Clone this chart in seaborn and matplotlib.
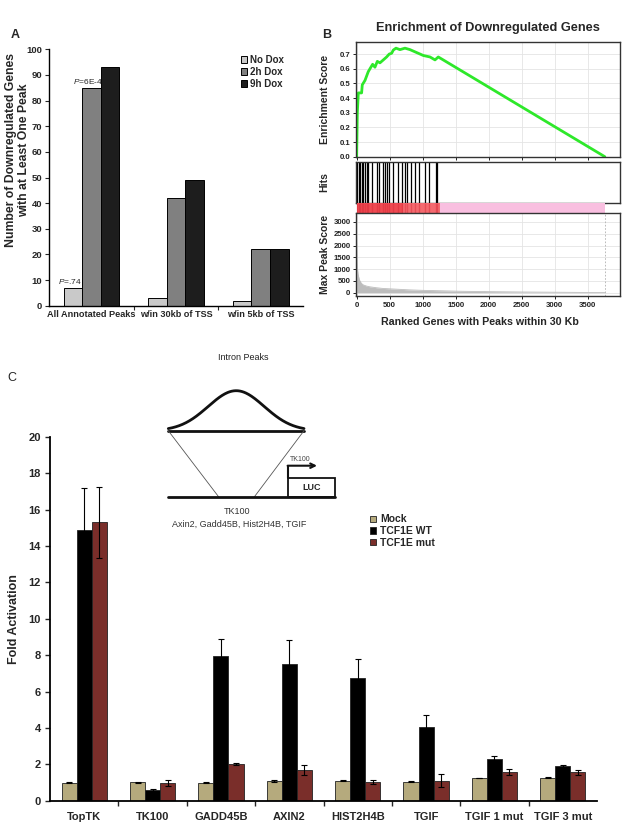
import numpy as np
import pandas as pd
import matplotlib
matplotlib.use("Agg")
import matplotlib.pyplot as plt
import seaborn as sns
from matplotlib.patches import Rectangle

sns.set_theme(style="white")
plt.rcParams['font.family'] = ['Liberation Sans', 'DejaVu Sans']
plt.rcParams['mathtext.fontset'] = 'custom'
plt.rcParams['mathtext.it'] = 'Liberation Sans:italic'
plt.rcParams['mathtext.rm'] = 'Liberation Sans'

# ---------------- Panel A data ----------------
a_categories = ["All Annotated Peaks", "w/in 30kb of TSS", "w/in 5kb of TSS"]
a_conditions = ["No Dox", "2h Dox", "9h Dox"]
a_no_dox = [7, 3, 2]
a_2h_dox = [85, 42, 22]
a_9h_dox = [93, 49, 22]
a_colors = ["#c9c9c9", "#808080", "#1d1d1d"]
a_pvals = ["$\\mathit{P}$=.74", "$\\mathit{P}$=6E-4"]

# ---------------- Panel B data ----------------
es_rank = [0, 10, 25, 75, 85, 126, 151, 176, 202, 242, 277, 313, 353, 404, 454,
           494, 530, 555, 596, 656, 732, 808, 909, 1010, 1111, 1187, 1237, 3760]
es_score = [0.0, 0.30, 0.435, 0.435, 0.49, 0.52, 0.55, 0.58, 0.60, 0.63, 0.61, 0.65,
            0.64, 0.66, 0.68, 0.70, 0.705, 0.727, 0.74, 0.73, 0.74, 0.73, 0.71,
            0.69, 0.68, 0.66, 0.68, 0.0]
hit_ranks = [10, 30, 50, 75, 100, 126, 150, 176, 227, 313, 343, 404, 429, 454, 494,
             555, 620, 686, 732, 757, 823, 884, 949, 1040, 1100, 1195, 1215]
peak_rank = [0, 5, 10, 20, 40, 70, 100, 150, 200, 300, 400, 600, 800, 1000, 1300,
             1600, 2000, 2500, 3000, 3500, 3760]
peak_score = [2300, 1500, 1100, 800, 550, 400, 330, 280, 250, 210, 180, 150, 120,
              100, 80, 60, 45, 30, 20, 10, 5]
n_genes = 3760
leading_edge = 1270

# ---------------- Panel C data ----------------
c_constructs = ["TopTK", "TK100", "GADD45B", "AXIN2", "HIST2H4B", "TGIF",
                "TGIF 1 mut", "TGIF 3 mut"]
c_conditions = ["Mock", "TCF1E WT", "TCF1E mut"]
c_mock = [1.0, 1.01, 1.0, 1.08, 1.1, 1.04, 1.25, 1.26]
c_mock_err = [0.03, 0.03, 0.03, 0.03, 0.03, 0.03, 0.02, 0.04]
c_wt = [14.88, 0.59, 7.95, 7.53, 6.76, 4.04, 2.27, 1.91]
c_wt_err = [2.3, 0.03, 0.95, 1.3, 1.04, 0.66, 0.2, 0.04]
c_mut = [15.29, 0.97, 2.02, 1.69, 1.03, 1.1, 1.58, 1.56]
c_mut_err = [1.95, 0.17, 0.07, 0.27, 0.13, 0.35, 0.15, 0.14]
c_colors = ["#b5aa7d", "#000000", "#7a2e2a"]

W, H = 634, 826
fig = plt.figure(figsize=(W / 100, H / 100), dpi=100)
fig.patch.set_facecolor("white")


def rect(x0, y0, x1, y1):
    return [x0 / W, 1 - y1 / H, (x1 - x0) / W, (y1 - y0) / H]


# ================= Panel A =================
dfA = pd.DataFrame({
    "category": a_categories * 3,
    "condition": np.repeat(a_conditions, len(a_categories)),
    "value": a_no_dox + a_2h_dox + a_9h_dox,
})
axA = fig.add_axes(rect(49.3, 49.3, 303, 305.7))
sns.barplot(data=dfA, x="category", y="value", hue="condition", order=a_categories,
            hue_order=a_conditions, palette=a_colors, width=0.66, gap=0,
            edgecolor="black", linewidth=0.7, saturation=1, ax=axA)
axA.set_xlim(-0.5, 2.5)
axA.set_ylim(0, 100)
axA.set_yticks(range(0, 101, 10))
axA.set_xticks(range(3))
axA.set_xticks([0.5, 1.5], minor=True)
axA.tick_params(axis="x", which="major", length=0, labelsize=6.6, pad=3)
axA.tick_params(axis="x", which="minor", length=3, width=0.8, direction="out", bottom=True)
axA.tick_params(axis="y", length=3, width=0.8, direction="out", left=True, labelsize=6.8, pad=2)
for lab in axA.get_xticklabels() + axA.get_yticklabels():
    lab.set_fontweight("bold")
for s in ["top", "right"]:
    axA.spines[s].set_visible(False)
for s in ["left", "bottom"]:
    axA.spines[s].set_color("black")
    axA.spines[s].set_linewidth(1.0)
axA.set_xlabel("")
axA.set_ylabel("Number of Downregulated Genes\nwith at Least One Peak", fontsize=8.8,
               fontweight="bold", linespacing=1.1)
axA.yaxis.set_label_coords(-0.075, 0.607)
# p-values
for cont_i, ptxt in zip([0, 1], a_pvals):
    p = axA.containers[cont_i][0]
    axA.text(p.get_x() + p.get_width() / 2 - 0.04, p.get_height() + 0.6, ptxt,
             ha="center", va="bottom", fontsize=6, zorder=10)
handles, labels = axA.get_legend_handles_labels()
axA.legend(handles, labels, loc="upper left", bbox_to_anchor=(241 / W, 1 - 55 / H),
           bbox_transform=fig.transFigure, frameon=False,
           prop=dict(weight="bold", size=7), handlelength=0.6, handleheight=0.6,
           handletextpad=0.35, labelspacing=0.2, borderpad=0, borderaxespad=0)

# ================= Panel B =================
grid_c = "#e4e4e4"
frame_c = "#333333"
xl = (-10, 3990)

axB1 = fig.add_axes(rect(356, 42.3, 620, 156.7))
sns.lineplot(x=es_rank, y=es_score, color="#2ee82a", linewidth=2, ax=axB1)
axB1.set_xlim(*xl)
axB1.set_ylim(0, 0.78)
axB1.set_yticks(np.arange(0, 0.71, 0.1))
axB1.set_yticklabels([f"{v:.1f}" for v in np.arange(0, 0.71, 0.1)])
axB1.set_xticks(range(0, 4000, 500))
axB1.set_xticklabels([])
axB1.grid(True, color=grid_c, linewidth=0.6)
axB1.set_axisbelow(True)
axB1.set_ylabel("Enrichment Score", fontsize=7.5, fontweight="bold")
axB1.yaxis.set_label_coords(-0.1, 0.5)
axB1.set_title("Enrichment of Downregulated Genes", fontsize=9.2, fontweight="bold", pad=8)

axB2 = fig.add_axes(rect(356, 162.3, 620, 202.7))
axB2.vlines(hit_ranks, 0, 1, color="black", linewidth=0.9)
axB2.set_xlim(*xl)
axB2.set_ylim(0, 1)
axB2.set_xticks([])
axB2.set_yticks([])
axB2.set_ylabel("Hits", fontsize=7.5, fontweight="bold")
axB2.yaxis.set_label_coords(-0.1, 0.5)

axB3 = fig.add_axes(rect(356, 202.7, 620, 212.5))
axB3.axvspan(0, leading_edge * 0.55, color="#ef4a52", lw=0)
axB3.axvspan(leading_edge * 0.55, leading_edge, color="#f46a70", lw=0)
axB3.axvspan(leading_edge, n_genes, color="#f9bfe0", lw=0)
axB3.vlines(hit_ranks, 0, 1, color="#d62a38", linewidth=1.0, alpha=0.45)
axB3.set_xlim(*xl)
axB3.set_ylim(0, 1)
axB3.axis("off")

axB4 = fig.add_axes(rect(356, 213, 620, 296))
sns.lineplot(x=peak_rank, y=peak_score, color="#bdbdbd", linewidth=0.6, ax=axB4)
axB4.fill_between(peak_rank, 0, peak_score, color="#bdbdbd", lw=0)
axB4.axvline(n_genes, color="#b0b0b0", linestyle=(0, (2, 2)), linewidth=0.6)
axB4.set_xlim(*xl)
axB4.set_ylim(-140, 3380)
axB4.set_yticks(range(0, 3001, 500))
axB4.set_xticks(range(0, 4000, 500))
axB4.grid(True, color=grid_c, linewidth=0.6)
axB4.set_axisbelow(True)
axB4.set_ylabel("Max Peak Score", fontsize=7.5, fontweight="bold")
axB4.yaxis.set_label_coords(-0.1, 0.5)
axB4.set_xlabel("Ranked Genes with Peaks within 30 Kb", fontsize=7.7, fontweight="bold")
axB4.xaxis.set_label_coords(0.47, -0.25)

for ax in [axB1, axB2, axB4]:
    for s in ax.spines.values():
        s.set_visible(True)
        s.set_color(frame_c)
        s.set_linewidth(1.0)
for ax in [axB1, axB4]:
    ax.tick_params(axis="both", length=2.5, width=0.7, direction="out", left=True,
                   bottom=True, labelsize=5.6, pad=1.5, colors="#222222")
    for lab in ax.get_xticklabels() + ax.get_yticklabels():
        lab.set_fontweight("bold")

# ================= Panel C =================
dfC = pd.DataFrame({
    "construct": c_constructs * 3,
    "condition": np.repeat(c_conditions, len(c_constructs)),
    "value": c_mock + c_wt + c_mut,
})
axC = fig.add_axes(rect(50, 436.7, 597, 800.7))
sns.barplot(data=dfC, x="construct", y="value", hue="condition", order=c_constructs,
            hue_order=c_conditions, palette=c_colors, width=0.66, gap=0,
            edgecolor="#222222", linewidth=0.6, saturation=1, ax=axC)
for cont, errs in zip(axC.containers, [c_mock_err, c_wt_err, c_mut_err]):
    xs = [p.get_x() + p.get_width() / 2 for p in cont]
    hs = [p.get_height() for p in cont]
    axC.errorbar(xs, hs, yerr=errs, fmt="none", ecolor="black", elinewidth=0.8,
                 capsize=2.5, capthick=0.8, zorder=5)
axC.set_xlim(-0.5, len(c_constructs) - 0.5)
axC.set_ylim(0, 20)
axC.set_yticks(range(0, 21, 2))
axC.set_xticks(range(len(c_constructs)))
axC.set_xticks(np.arange(0.5, len(c_constructs) - 0.5, 1), minor=True)
axC.tick_params(axis="x", which="major", length=0, labelsize=8, pad=8)
axC.tick_params(axis="x", which="minor", length=3.5, width=1.0, direction="out", bottom=True)
axC.tick_params(axis="y", length=3.5, width=1.0, direction="out", left=True, labelsize=8, pad=3)
for lab in axC.get_xticklabels() + axC.get_yticklabels():
    lab.set_fontweight("bold")
for s in ["top", "right"]:
    axC.spines[s].set_visible(False)
for s in ["left", "bottom"]:
    axC.spines[s].set_color("black")
    axC.spines[s].set_linewidth(1.3)
axC.patch.set_alpha(0)
axC.set_xlabel("")
axC.set_ylabel("Fold Activation", fontsize=9, fontweight="bold")
axC.yaxis.set_label_coords(-0.055, 0.5)
handles, labels = axC.get_legend_handles_labels()
axC.legend(handles, labels, loc="upper left", bbox_to_anchor=(370 / W, 1 - 514.5 / H),
           bbox_transform=fig.transFigure, frameon=False,
           prop=dict(weight="bold", size=7.5), handlelength=0.6, handleheight=0.6,
           handletextpad=0.4, labelspacing=0.15, borderpad=0, borderaxespad=0)

# ================= Schematic (panel C inset drawing) =================
axS = fig.add_axes([0, 0, 1, 1], zorder=10)
axS.set_xlim(0, W)
axS.set_ylim(H, 0)
axS.axis("off")
gx = np.linspace(168.3, 304, 200)
axS.plot(gx, 430.7 - 40 * np.exp(-0.5 * ((gx - 236.2) / 28) ** 2), color="#111111", lw=2)
axS.plot([168.3, 304], [430.7, 430.7], color="#111111", lw=2)
axS.plot([168.3, 219], [430.7, 497.3], color="#555555", lw=0.6)
axS.plot([304, 254], [430.7, 497.3], color="#555555", lw=0.6)
axS.plot([168.3, 335], [497.3, 497.3], color="#111111", lw=2)
axS.add_patch(Rectangle((288.3, 478.3), 335 - 288.3, 497.3 - 478.3, fill=False,
                        edgecolor="#111111", lw=1.3))
axS.plot([288.3, 288.3], [478.3, 465.7], color="#111111", lw=1.5)
axS.annotate("", xy=(317, 465.7), xytext=(287.6, 465.7),
             arrowprops=dict(arrowstyle="->", color="#111111", lw=1.5,
                             shrinkA=0, shrinkB=0, mutation_scale=8))
axS.text(312, 487.8, "LUC", ha="center", va="center", fontsize=6.5, fontweight="bold")
axS.text(300, 459.5, "TK100", ha="center", va="center", fontsize=5, color="#444444")
axS.text(237.3, 511.7, "TK100", ha="center", va="center", fontsize=6.5, color="#333333")
axS.text(239, 524.5, "Axin2, Gadd45B, Hist2H4B, TGIF", ha="center", va="center",
         fontsize=6.5, color="#333333")
axS.text(243, 358, "Intron Peaks", ha="center", va="center", fontsize=6.5, color="#222222")

# panel letters
fig.text(15 / W, 1 - 35 / H, "A", fontsize=9, fontweight="bold", ha="center", va="center")
fig.text(327 / W, 1 - 35 / H, "B", fontsize=9, fontweight="bold", ha="center", va="center")
fig.text(12 / W, 1 - 378 / H, "C", fontsize=9, ha="center", va="center")

fig.savefig("out.png", dpi=100)
